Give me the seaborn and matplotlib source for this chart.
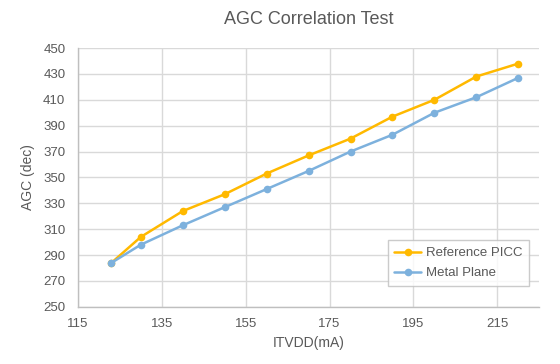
import numpy as np
import pandas as pd
import matplotlib
matplotlib.use("Agg")
import matplotlib.pyplot as plt
import seaborn as sns

# data
itvdd = [123, 130, 140, 150, 160, 170, 180, 190, 200, 210, 220]
ref_picc = [284, 304, 324, 337, 353, 367, 380, 397, 410, 428, 438]
metal_plane = [284, 298, 313, 327, 341, 355, 370, 383, 400, 412, 427]
series_names = ["Reference PICC", "Metal Plane"]

df = pd.DataFrame({
    "ITVDD(mA)": itvdd * 2,
    "AGC (dec)": ref_picc + metal_plane,
    "series": [series_names[0]] * len(itvdd) + [series_names[1]] * len(itvdd),
})

sns.set_theme(style="white")
plt.rcParams['font.family'] = ['Liberation Sans', 'DejaVu Sans']

fig = plt.figure(figsize=(5.6, 3.64), dpi=100)
ax = fig.add_axes([0.139, 0.157, 0.824, 0.711])

palette = {series_names[0]: "#FFB900", series_names[1]: "#7DB1DD"}
sns.lineplot(data=df, x="ITVDD(mA)", y="AGC (dec)", hue="series",
             palette=palette, marker="o", markersize=5.5, markeredgewidth=0,
             linewidth=1.8, ax=ax)

ax.set_xlim(115, 225)
ax.set_ylim(250, 450)
ax.set_xticks(np.arange(115, 225, 20))
ax.set_yticks(np.arange(250, 451, 20))
ax.grid(True, color="#D9D9D9", linewidth=1)
ax.set_axisbelow(True)
for s in ["top", "right"]:
    ax.spines[s].set_visible(False)
for s in ["left", "bottom"]:
    ax.spines[s].set_color("#BFBFBF")
    ax.spines[s].set_linewidth(1)
ax.tick_params(axis="both", colors="#595959", labelsize=9.5, length=0)
ax.tick_params(axis="x", pad=8)
ax.tick_params(axis="y", pad=9)

ax.set_xlabel("ITVDD(mA)", color="#595959", fontsize=10, labelpad=4)
ax.set_ylabel("AGC (dec)", color="#595959", fontsize=10, labelpad=6)
ax.set_title("AGC Correlation Test", color="#595959", fontsize=13, pad=17)

leg = ax.legend(loc="lower right", bbox_to_anchor=(0.978, 0.081),
                borderaxespad=0, frameon=True, fancybox=False,
                fontsize=9.5, handlelength=2.0, handletextpad=0.4,
                labelspacing=0.6, borderpad=0.5)
leg.get_frame().set_edgecolor("#BFBFBF")
leg.get_frame().set_linewidth(1)
for t in leg.get_texts():
    t.set_color("#595959")

fig.savefig("out.png", dpi=100)
